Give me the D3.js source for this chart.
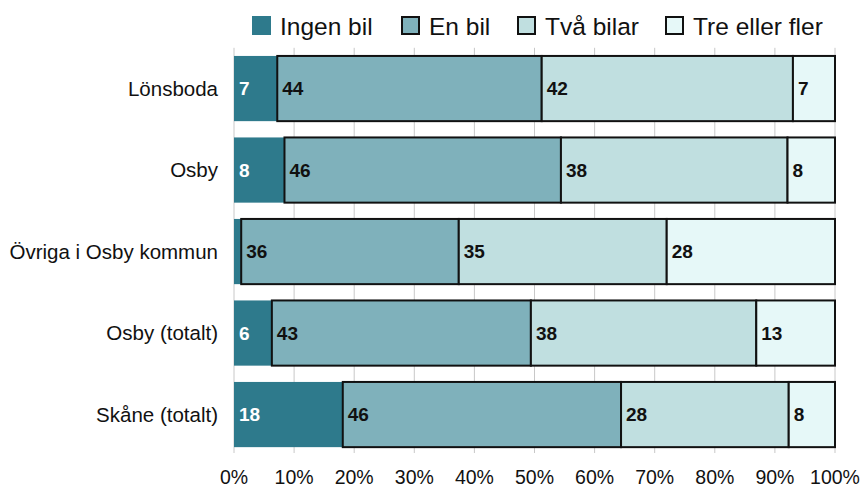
<!DOCTYPE html>
<html><head><meta charset="utf-8">
<script src="https://cdn.jsdelivr.net/npm/d3@7"></script>
<style>body{margin:0;background:#fff}svg{display:block}text{font-family:"Liberation Sans",Arial,sans-serif}</style>
</head><body><svg id="c" width="864" height="489"></svg>
<script>
const categories = ["Lönsboda","Osby","Övriga i Osby kommun","Osby (totalt)","Skåne (totalt)"];
const seriesNames = ["Ingen bil","En bil","Två bilar","Tre eller fler"];
const ingenBil = [7.2, 8.4, 1.2, 6.3, 18.1];
const enBil    = [44.0, 46.0, 36.2, 43.1, 46.3];
const tvaBilar = [41.8, 37.7, 34.6, 37.5, 27.9];
const treFler  = [7.0, 7.9, 28.0, 13.1, 7.7];
const xTicks = [0,10,20,30,40,50,60,70,80,90,100];
const colors = ["#2e7a8c","#7fb1bb","#c0dfe0","#e6f8f8"];

const svg = d3.select("#c");
const x = d3.scaleLinear().domain([0,100]).range([234,835]);
const y = d3.scaleBand().domain(categories).range([47.8,455.3]).paddingInner(0.2).paddingOuter(0.1);

const seriesVals = [ingenBil, enBil, tvaBilar, treFler];
const rows = categories.map((c,i)=>{const o={cat:c}; seriesNames.forEach((s,j)=>o[s]=seriesVals[j][i]); return o;});
const stacked = d3.stack().keys(seriesNames)(rows);

// gridlines
svg.append("g").selectAll("line").data(xTicks).join("line")
  .attr("x1",d=>x(d)).attr("x2",d=>x(d)).attr("y1",47.8).attr("y2",453)
  .attr("stroke","#c8c8c8").attr("stroke-width",1);

// bars
stacked.forEach((layer,j)=>{
  const g = svg.append("g");
  g.selectAll("rect").data(layer).join("rect")
    .attr("x",d=>x(d[0])).attr("y",d=>y(d.data.cat))
    .attr("width",d=>x(d[1])-x(d[0])).attr("height",y.bandwidth())
    .attr("fill",colors[j])
    .attr("stroke",j===0?"none":"#111").attr("stroke-width",j===0?0:2);
  g.selectAll("text").data(layer.filter(d=>d[1]-d[0]>=3)).join("text")
    .attr("x",d=>x(d[0])+5).attr("y",d=>y(d.data.cat)+y.bandwidth()/2)
    .attr("dy","0.36em").attr("font-size",19).attr("font-weight","bold")
    .attr("fill",j===0?"#fff":"#111")
    .text(d=>Math.round(d[1]-d[0]));
});

// category labels
svg.append("g").selectAll("text").data(categories).join("text")
  .attr("x",218).attr("y",d=>y(d)+y.bandwidth()/2).attr("dy","0.36em")
  .attr("text-anchor","end").attr("font-size",20.5).attr("fill","#111").text(d=>d);

// x axis labels
svg.append("g").selectAll("text").data(xTicks).join("text")
  .attr("x",d=>x(d)).attr("y",477).attr("dy","0.36em")
  .attr("text-anchor","middle").attr("font-size",19.5).attr("fill","#111").text(d=>d+"%");

// legend
const legX = [252,401,517,665];
const leg = svg.append("g").selectAll("g").data(seriesNames).join("g")
  .attr("transform",(d,i)=>`translate(${legX[i]},16)`);
leg.append("rect").attr("x",(d,i)=>i===0?0:1).attr("y",(d,i)=>i===0?0:1)
  .attr("width",(d,i)=>i===0?19:17).attr("height",(d,i)=>i===0?19:17)
  .attr("fill",(d,i)=>colors[i]).attr("stroke",(d,i)=>i===0?"none":"#111").attr("stroke-width",2);
leg.append("text").attr("x",28).attr("y",10).attr("dy","0.36em")
  .attr("font-size",24.5).attr("fill","#111").text(d=>d);
</script></body></html>
